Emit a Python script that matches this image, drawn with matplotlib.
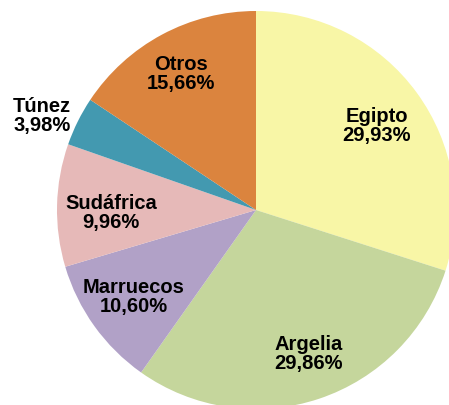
import numpy as np
import matplotlib.pyplot as plt

paises = ["Egipto", "Argelia", "Marruecos", "Sudáfrica", "Túnez", "Otros"]
valores = [29.93, 29.86, 10.60, 9.96, 3.98, 15.66]
colores = ["#F8F6A6", "#C5D69C", "#B1A1C7", "#E6B9B8", "#4399B0", "#DB843E"]

# label centres in data units (pie radius = 1)
pos_etiquetas = [(0.608, 0.427), (0.266, -0.719), (-0.613, -0.432),
                 (-0.729, -0.010), (-1.075, 0.477), (-0.377, 0.688)]

plt.rcParams['font.family'] = ['Liberation Sans', 'DejaVu Sans']

W, H = 449, 406
cx, cy, r = 256, 211, 199
fig = plt.figure(figsize=(W/100, H/100), dpi=100)
ax = fig.add_axes([(cx-r)/W, (H-cy-r)/H, 2*r/W, 2*r/H])
ax.pie(valores, colors=colores, startangle=90, counterclock=False,
       radius=1, wedgeprops=dict(linewidth=0, edgecolor='none'))
ax.set_xlim(-1, 1)
ax.set_ylim(-1, 1)
ax.set_aspect('equal')
ax.axis('off')

for p, v, (x, y) in zip(paises, valores, pos_etiquetas):
    txt = p + "\n" + ("%.2f" % v).replace(".", ",") + "%"
    ax.text(x, y, txt, ha='center', va='center', fontsize=14.5,
            fontweight='bold', linespacing=0.95, color='black')

fig.savefig("out.png", dpi=100)
